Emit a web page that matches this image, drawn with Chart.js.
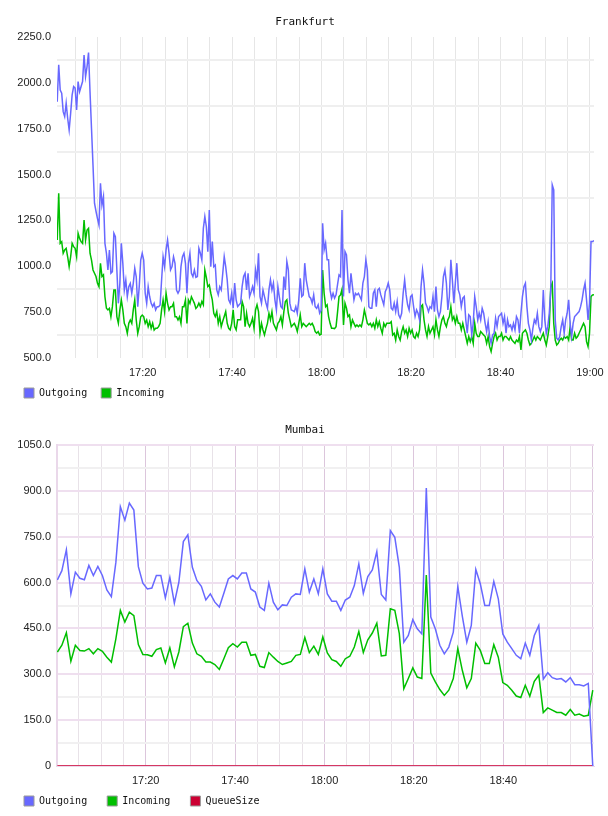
<!DOCTYPE html>
<html>
<head>
<meta charset="utf-8">
<script src="https://cdn.jsdelivr.net/npm/chart.js@4.4.1/dist/chart.umd.min.js"></script>
<style>
  body { margin: 0; background: #fff; }
  canvas { display: block; }
</style>
</head>
<body>
<canvas id="frankfurt" width="608" height="408"></canvas>
<canvas id="mumbai" width="608" height="408"></canvas>
<script>
// times are minutes after 17:00
const frankfurtStart = 54 / 60;
const frankfurtStep = 20 / 60;

const frankfurtOutgoing = [
  1897, 2098, 1961, 1943, 1843, 1816, 1889, 1807, 1743, 1834, 1934, 1980, 1971, 1852, 2007, 1952, 1980, 2007, 2152, 2034, 2089, 2165,
  1950, 1750, 1550, 1344, 1300, 1260, 1225, 1452, 1334, 1380, 1125, 1071, 980, 1089, 962, 971, 1180, 1162, 980, 798,
  907, 1125, 1016, 871, 925, 834, 889, 907, 853, 907, 989, 942, 780, 889, 1034, 1071, 1034, 853, 798, 889,
  834, 798, 780, 798, 762, 780, 780, 789, 925, 1052, 998, 1089, 1143, 1071, 980, 998, 1052, 1016, 871, 853,
  871, 998, 1052, 1071, 1016, 853, 1016, 1071, 962, 944, 980,
  940, 944, 1098, 1071, 1035, 1207, 1271, 1217, 1080, 1307, 998, 1135, 998, 1007, 871, 844, 889, 871, 960, 1053,
  998, 926, 817, 799, 853, 771, 908, 817, 780, 790, 799, 889, 944, 962, 871, 962, 835, 860, 889, 853,
  980, 926, 1071, 835, 799, 871, 835, 800, 771, 871, 926, 871, 908, 817, 762, 889, 830, 780, 771, 944,
  871, 1026, 980, 799, 762, 758, 753, 780, 744, 817, 935, 835, 844, 1017, 926, 880, 835, 826, 799, 844,
  780, 771, 790, 744, 760, 1235, 1089, 1126, 1035, 1035, 870,
  826, 853, 826, 844, 900, 953, 944, 1307, 835, 1080, 1062, 926, 853, 962, 889, 817, 853, 844, 853, 835,
  817, 908, 944, 1035, 980, 780, 771, 771, 853, 871, 780, 871, 880, 844, 817, 790, 862, 880, 908, 871,
  771, 762, 799, 753, 808, 735, 717, 744, 853, 926, 844, 790, 762, 835, 844, 780, 726, 762, 744, 708,
  889, 980, 908, 799, 780, 753, 780, 771, 835, 753, 889, 762, 726, 753, 835, 944, 980, 908, 762, 835,
  1035, 926, 799, 908, 1017, 871,
  844, 780, 826, 835, 708, 635, 735, 726, 626, 689, 835, 780, 708, 744, 708, 771, 744, 689, 644, 698,
  617, 580, 626, 635, 717, 671, 726, 735, 744, 689, 726, 635, 708, 671, 680, 653, 689, 653, 726, 708,
  635, 744, 835, 889, 908, 780, 689, 653, 598, 662, 708, 689, 744, 671, 644, 671, 871, 708, 635, 671,
  744, 871, 1444, 1417, 708, 608, 598, 617, 671, 708, 635, 708, 744, 817, 689, 617, 689, 726, 735, 744,
  753, 780, 817, 871, 908, 817, 708, 799, 1135, 1135, 1140
];

const frankfurtIncoming = [
  1143, 1398, 1125, 1134, 1071, 1089, 1098, 1052, 998, 1052, 1125, 1107, 1098, 1052, 1180, 1152, 1134, 1125, 1252, 1143, 1198, 1207,
  1071, 1034, 980, 962, 944, 907, 889, 1016, 944, 953, 834, 771, 762, 771, 725, 780, 871, 871, 725, 689,
  762, 816, 762, 689, 671, 634, 689, 707, 689, 762, 816, 707, 634, 671, 725, 734, 725, 689, 707, 671,
  698, 662, 689, 652, 662, 662, 671, 689, 762, 816, 753, 853, 798, 762, 780, 780, 798, 725, 725, 707,
  725, 689, 780, 780, 816, 689, 816, 798, 834, 816, 798,
  770, 780, 799, 780, 808, 790, 980, 940, 889, 898, 853, 817, 744, 726, 753, 689, 726, 671, 700, 726,
  753, 689, 662, 653, 689, 762, 671, 653, 708, 708, 708, 808, 780, 671, 744, 689, 671, 690, 717, 662,
  762, 790, 753, 635, 689, 653, 626, 660, 689, 744, 708, 753, 689, 671, 653, 689, 700, 726, 680, 753,
  808, 817, 744, 708, 671, 680, 689, 671, 644, 689, 735, 671, 689, 680, 671, 680, 689, 680, 689, 671,
  644, 635, 644, 626, 630, 980, 853, 780, 790, 726, 689,
  662, 662, 660, 671, 750, 835, 844, 875, 680, 799, 771, 726, 735, 671, 708, 689, 671, 680, 671, 680,
  671, 708, 762, 726, 689, 680, 689, 671, 689, 662, 708, 671, 698, 662, 635, 689, 671, 689, 689, 689,
  698, 626, 635, 598, 653, 617, 598, 644, 671, 635, 653, 617, 662, 635, 653, 617, 608, 635, 617, 653,
  780, 790, 708, 653, 617, 671, 635, 653, 671, 626, 708, 653, 617, 671, 708, 726, 689, 671, 708, 726,
  780, 708, 726, 689, 726, 689,
  689, 653, 689, 653, 617, 580, 617, 589, 617, 580, 689, 635, 617, 617, 644, 635, 626, 617, 580, 617,
  562, 535, 580, 617, 635, 598, 617, 617, 635, 598, 617, 617, 608, 598, 617, 598, 589, 580, 598, 589,
  617, 544, 635, 644, 653, 635, 598, 571, 580, 598, 617, 598, 617, 608, 598, 617, 635, 598, 571, 617,
  671, 889, 908, 689, 598, 571, 580, 598, 608, 598, 617, 608, 617, 598, 671, 598, 598, 635, 608, 617,
  635, 653, 671, 689, 671, 589, 562, 635, 835, 844, 845
];

const mumbaiStart = 14 / 60;
const mumbaiStep = 60.4 / 60;

const mumbaiOutgoing = [
  609, 639, 707, 563, 634, 614, 609, 656, 623, 653,
  623, 576, 554, 666, 848, 804, 860, 837, 652, 598,
  579, 582, 623, 623, 550, 617, 533, 601, 734, 756,
  650, 607, 588, 543, 563, 536, 520, 565, 612, 623,
  612, 631, 631, 579, 569, 520, 509, 598, 536, 511,
  527, 525, 552, 563, 561, 645, 569, 612, 563, 645,
  563, 539, 539, 509, 543, 552, 590, 661, 565, 620,
  641, 701, 561, 543, 770, 748, 650, 405, 427, 479,
  449, 432, 909, 487, 449, 395, 367, 389, 438, 587,
  490, 405, 460, 643, 596, 525, 525, 604, 547, 432,
  405, 384, 362, 351, 402, 362, 427, 460, 284, 305,
  289, 284, 286, 275, 289, 266, 266, 262, 270, 0
];

const mumbaiIncoming = [
  373, 395, 436, 343, 395, 378, 376, 384, 367, 384,
  375, 356, 340, 416, 509, 471, 503, 492, 397, 365,
  364, 359, 381, 386, 337, 386, 324, 373, 456, 467,
  402, 367, 359, 340, 340, 332, 316, 351, 387, 400,
  389, 405, 405, 362, 365, 326, 322, 371, 356, 342,
  332, 337, 342, 362, 365, 420, 371, 392, 365, 422,
  370, 348, 342, 326, 351, 359, 389, 440, 371, 413,
  435, 467, 360, 362, 514, 509, 433, 253, 286, 321,
  291, 286, 625, 304, 275, 250, 231, 248, 286, 384,
  313, 256, 286, 402, 378, 335, 335, 397, 356, 273,
  264, 248, 229, 224, 264, 228, 277, 297, 175, 190,
  183, 175, 175, 166, 185, 166, 170, 163, 166, 248
];

const mumbaiQueueSize = [
  0, 0, 0, 0, 0, 0, 0, 0, 0, 0,
  0, 0, 0, 0, 0, 0, 0, 0, 0, 0,
  0, 0, 0, 0, 0, 0, 0, 0, 0, 0,
  0, 0, 0, 0, 0, 0, 0, 0, 0, 0,
  0, 0, 0, 0, 0, 0, 0, 0, 0, 0,
  0, 0, 0, 0, 0, 0, 0, 0, 0, 0,
  0, 0, 0, 0, 0, 0, 0, 0, 0, 0,
  0, 0, 0, 0, 0, 0, 0, 0, 0, 0,
  0, 0, 0, 0, 0, 0, 0, 0, 0, 0,
  0, 0, 0, 0, 0, 0, 0, 0, 0, 0,
  0, 0, 0, 0, 0, 0, 0, 0, 0, 0,
  0, 0, 0, 0, 0, 0, 0, 0, 0, 0
];

// tick labels
const frankfurtTimeLabels = ['17:20', '17:40', '18:00', '18:20', '18:40', '19:00'];
const mumbaiTimeLabels = ['17:20', '17:40', '18:00', '18:20', '18:40'];
const frankfurtValueLabels = [500, 750, 1000, 1250, 1500, 1750, 2000, 2250];
const mumbaiValueLabels = [0, 150, 300, 450, 600, 750, 900, 1050];

const BLUE = '#6868ff';
const GREEN = '#00bf00';
const RED = '#cc0033';

function clock(minutes) {
  const total = Math.round(minutes);
  const h = 17 + Math.floor(total / 60);
  const m = total % 60;
  return h + ':' + String(m).padStart(2, '0');
}

function toPoints(values, start, step) {
  return values.map((v, i) => ({ x: start + i * step, y: v }));
}

function line(label, values, start, step, color) {
  return {
    label: label,
    data: toPoints(values, start, step),
    borderColor: color,
    backgroundColor: color,
    borderWidth: 1.5,
    pointRadius: 0,
    tension: 0,
    fill: false
  };
}

const tickFont = { family: 'Liberation Sans', size: 11 };
const LEFT = 16;

// one chart per city, the two only differ in grid colours and legend spacing
function makeChart(id, o) {
  return new Chart(document.getElementById(id), {
    type: 'line',
    data: { datasets: o.datasets },
    options: {
      responsive: false,
      animation: false,
      parsing: false,
      layout: { padding: { left: LEFT, right: 14, top: 0, bottom: 0 } },
      plugins: {
        title: {
          display: true,
          text: o.title,
          color: '#111',
          font: { family: 'DejaVu Sans Mono', size: 11, weight: 'normal' },
          padding: { top: 15.5, bottom: 8.3 }
        },
        legend: {
          position: 'bottom',
          align: 'start',
          labels: {
            boxWidth: 10,
            boxHeight: 10,
            padding: 8,
            color: '#111',
            font: { family: 'DejaVu Sans Mono', size: 10 },
            // trailing blanks widen the gap between the legend entries
            generateLabels: chart =>
              Chart.defaults.plugins.legend.labels.generateLabels(chart).map(item =>
                Object.assign(item, {
                  text: item.text + ' '.repeat(o.legendGap),
                  strokeStyle: '#9a9a9a',
                  lineWidth: 1
                }))
          }
        },
        tooltip: { enabled: false }
      },
      scales: {
        x: {
          type: 'linear',
          min: o.xMin,
          max: o.xMax,
          afterFit: scale => { scale.paddingLeft = 0; scale.paddingRight = 0; },
          border: { display: o.border, color: o.borderColor },
          grid: {
            drawTicks: true,
            tickLength: 8,
            tickColor: 'rgba(0,0,0,0)',
            color: ctx => o.vGrid(ctx.tick.value)
          },
          ticks: {
            stepSize: 5,
            includeBounds: false,
            autoSkip: false,
            maxRotation: 0,
            padding: 0.4,
            color: '#222',
            font: tickFont,
            callback: v => (o.timeLabels.includes(clock(v)) && Math.abs(v - Math.round(v)) < 0.01 ? clock(v) : '')
          }
        },
        y: {
          min: o.yMin,
          max: o.yMax,
          afterFit: scale => { scale.width = 57 - LEFT; },
          border: { display: o.border, color: o.borderColor, width: 2 },
          grid: {
            drawTicks: false,
            lineWidth: 2,
            color: ctx => o.hGrid(o.valueLabels.includes(ctx.tick.value))
          },
          ticks: {
            stepSize: o.yStep,
            padding: 6,
            color: '#222',
            font: tickFont,
            callback: v => (o.valueLabels.includes(v) ? (v === 0 ? '0' : v.toFixed(1)) : '')
          }
        }
      }
    }
  });
}

makeChart('frankfurt', {
  title: 'Frankfurt',
  datasets: [
    line('Outgoing', frankfurtOutgoing, frankfurtStart, frankfurtStep, BLUE),
    line('Incoming', frankfurtIncoming, frankfurtStart, frankfurtStep, GREEN)
  ],
  legendGap: 1,
  xMin: 0.85,
  xMax: frankfurtStart + (frankfurtOutgoing.length - 1) * frankfurtStep,
  yMin: 500,
  yMax: 2250,
  yStep: 125,
  timeLabels: frankfurtTimeLabels,
  valueLabels: frankfurtValueLabels,
  border: false,
  borderColor: '#eee',
  vGrid: v => (Math.abs(v % 5) < 0.01 ? '#e6e6e6' : 'rgba(0,0,0,0)'),
  hGrid: labelled => (labelled ? 'rgba(0,0,0,0)' : '#efefef')
});

makeChart('mumbai', {
  title: 'Mumbai',
  datasets: [
    line('Outgoing', mumbaiOutgoing, mumbaiStart, mumbaiStep, BLUE),
    line('Incoming', mumbaiIncoming, mumbaiStart, mumbaiStep, GREEN),
    line('QueueSize', mumbaiQueueSize, mumbaiStart, mumbaiStep, RED)
  ],
  legendGap: 2,
  xMin: 0.15,
  xMax: 120.3,
  yMin: 0,
  yMax: 1050,
  yStep: 75,
  timeLabels: mumbaiTimeLabels,
  valueLabels: mumbaiValueLabels,
  border: true,
  borderColor: '#ead8ea',
  vGrid: v => (Math.abs(v % 20) < 0.01 ? '#dcc6dc' : '#e8e2e8'),
  hGrid: labelled => (labelled ? '#efdfef' : '#f1f0f1')
});
</script>
</body>
</html>
